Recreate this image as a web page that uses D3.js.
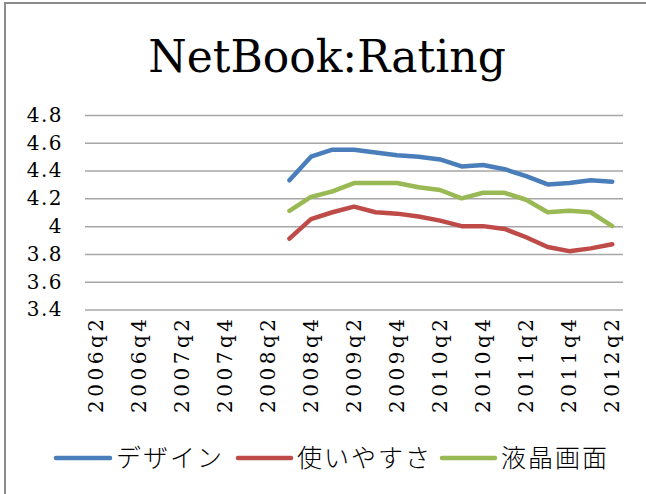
<!DOCTYPE html>
<html>
<head>
<meta charset="utf-8">
<script src="https://cdn.jsdelivr.net/npm/d3@7"></script>
<style>
  html, body { margin: 0; padding: 0; background: #fff; }
  svg { display: block; }
</style>
</head>
<body>
<svg id="chart" width="646" height="494"></svg>
<script>
// Quarter categories on the x axis
const quarters = [
  "2006q2","2006q3","2006q4","2007q1","2007q2","2007q3","2007q4",
  "2008q1","2008q2","2008q3","2008q4","2009q1","2009q2","2009q3","2009q4",
  "2010q1","2010q2","2010q3","2010q4","2011q1","2011q2","2011q3","2011q4",
  "2012q1","2012q2"
];
// Labelled quarters (every other one)
const tickQuarters = [
  "2006q2","2006q4","2007q2","2007q4","2008q2","2008q4","2009q2","2009q4",
  "2010q2","2010q4","2011q2","2011q4","2012q2"
];
const yTicks = [3.4, 3.6, 3.8, 4.0, 4.2, 4.4, 4.6, 4.8];

// Ratings (null = no data for that quarter)
const design = [null,null,null,null,null,null,null,null,null,
  4.33,4.50,4.55,4.55,4.53,4.51,4.50,4.48,4.43,4.44,4.41,4.36,4.30,4.31,4.33,4.32];
const usability = [null,null,null,null,null,null,null,null,null,
  3.91,4.05,4.10,4.14,4.10,4.09,4.07,4.04,4.00,4.00,3.98,3.92,3.85,3.82,3.84,3.87];
const display = [null,null,null,null,null,null,null,null,null,
  4.11,4.21,4.25,4.31,4.31,4.31,4.28,4.26,4.20,4.24,4.24,4.19,4.10,4.11,4.10,4.00];

const seriesNames = ["デザイン", "使いやすさ", "液晶画面"];
const seriesColors = ["#4A7EBB", "#BE4B48", "#98B954"];
const seriesData = [design, usability, display];

const svg = d3.select("#chart");
const serif = "'DejaVu Serif', 'Liberation Serif', serif";
const cjk = "'Noto Sans CJK JP', sans-serif";

// outer chart frame
svg.append("rect")
  .attr("x", 5).attr("y", 3).attr("width", 660).attr("height", 520)
  .attr("fill", "#fff").attr("stroke", "#8c8c8c").attr("stroke-width", 2);

// title
svg.append("text")
  .attr("x", 327).attr("y", 72)
  .attr("text-anchor", "middle")
  .style("font-family", serif)
  .style("font-size", "44px")
  .attr("fill", "#000")
  .text("NetBook:Rating");

const x = d3.scaleBand().domain(quarters).range([85, 623]);
const y = d3.scaleLinear().domain([3.4, 4.8]).range([309.5, 115]);

// y axis with gridlines
const yAxis = svg.append("g")
  .attr("transform", "translate(85,0)")
  .call(d3.axisLeft(y).tickValues(yTicks).tickSize(-(623 - 85))
    .tickPadding(22).tickFormat(d => String(+d.toFixed(1))));
yAxis.select(".domain").remove();
yAxis.selectAll(".tick line").attr("stroke", "#a6a6a6").attr("stroke-width", 1.5);
yAxis.selectAll(".tick text")
  .style("font-family", serif).style("font-size", "20px")
  .style("letter-spacing", "1.5px").attr("fill", "#000");

// x axis labels, rotated
const xAxis = svg.append("g")
  .attr("transform", "translate(0,309.5)")
  .call(d3.axisBottom(x).tickValues(tickQuarters).tickSize(0));
xAxis.select(".domain").remove();
xAxis.selectAll(".tick text")
  .style("font-family", serif).style("font-size", "20px")
  .style("letter-spacing", "3.5px").attr("fill", "#000")
  .attr("text-anchor", "end")
  .attr("dy", "0.35em")
  .attr("transform", "translate(0,6) rotate(-90)")
  .attr("x", 0).attr("y", 0);

// series lines
const line = d3.line()
  .defined(d => d != null)
  .x((d, i) => x(quarters[i]) + x.bandwidth() / 2)
  .y(d => y(d));

seriesData.forEach((vals, k) => {
  svg.append("path")
    .datum(vals)
    .attr("fill", "none")
    .attr("stroke", seriesColors[k])
    .attr("stroke-width", 4.5)
    .attr("stroke-linecap", "round")
    .attr("stroke-linejoin", "round")
    .attr("d", line);
});

// legend
const legendPos = [[56, 110], [238, 291], [442, 495]];
seriesNames.forEach((name, k) => {
  const [x0, x1] = legendPos[k];
  svg.append("line")
    .attr("x1", x0).attr("x2", x1).attr("y1", 458).attr("y2", 458)
    .attr("stroke", seriesColors[k]).attr("stroke-width", 4.5)
    .attr("stroke-linecap", "round");
  svg.append("text")
    .attr("x", x1 + 6).attr("y", 467)
    .style("font-family", cjk).style("font-size", "25px")
    .style("font-weight", 300)
    .style("letter-spacing", "2px")
    .attr("fill", "#000")
    .text(name);
});
</script>
</body>
</html>
